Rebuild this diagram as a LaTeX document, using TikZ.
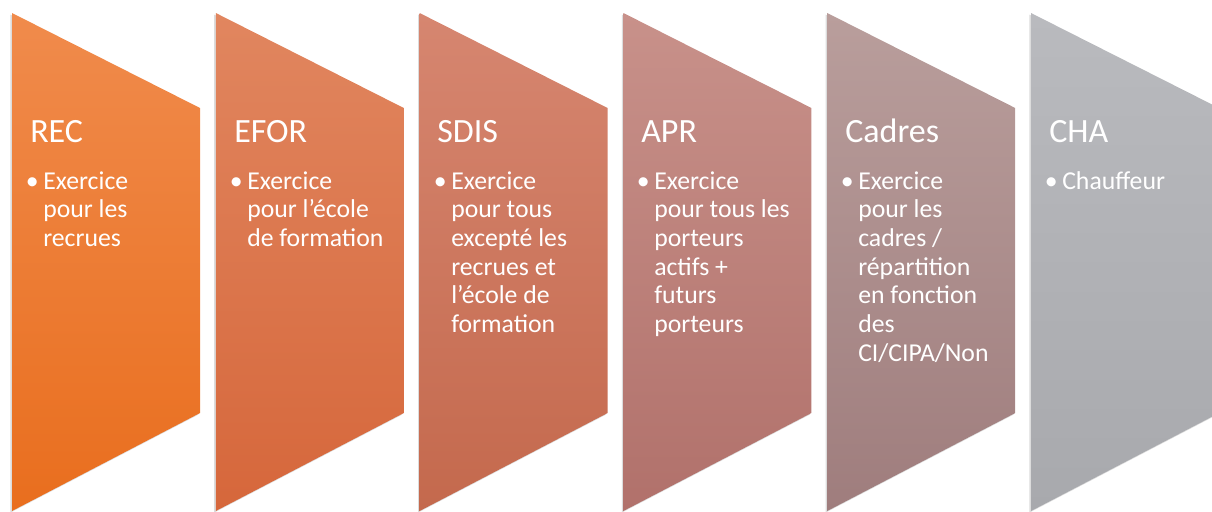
\documentclass[tikz,border=0pt]{standalone}
\usepackage{fontspec}
\setmainfont{Carlito}
\usepackage{xcolor}
\usepackage{tikz}
\usetikzlibrary{shadows}
\definecolor{RecTop}{HTML}{F08B4C}
\definecolor{RecBot}{HTML}{E96E1E}
\definecolor{EforTop}{HTML}{E1865F}
\definecolor{EforBot}{HTML}{D6673B}
\definecolor{SdisTop}{HTML}{D68670}
\definecolor{SdisBot}{HTML}{C4694D}
\definecolor{AprTop}{HTML}{C8918A}
\definecolor{AprBot}{HTML}{B1716B}
\definecolor{CadTop}{HTML}{B99E9C}
\definecolor{CadBot}{HTML}{9F7D7D}
\definecolor{ChaTop}{HTML}{B9BABE}
\definecolor{ChaBot}{HTML}{A8A9AD}
\tikzset{
  panel/.style={drop shadow={opacity=0.28,shadow xshift=-1.2pt,shadow yshift=-1.2pt}},
  title/.style={anchor=base west,inner sep=0pt,text=white,font=\fontsize{25.5}{30}\selectfont},
  body/.style={anchor=base west,inner sep=0pt,text=white}
}
\newcommand\bodytext[1]{\parbox[t]{130pt}{\fontsize{19.3}{21.5}\selectfont\raggedright\leavevmode\llap{\textbullet\hspace{3.5pt}}#1}}

\begin{document}
\begin{tikzpicture}[x=0.75pt,y=-0.75pt]
  \clip (0,0) rectangle (1212,511);
  % chevrons
  \foreach \i/\ctop/\cbot in {0/RecTop/RecBot,1/EforTop/EforBot,2/SdisTop/SdisBot,3/AprTop/AprBot,4/CadTop/CadBot,5/ChaTop/ChaBot}
    \path[panel,top color=\ctop,bottom color=\cbot]
      ({12+203.8*\i},13) -- ({200+203.8*\i},108) -- ({200+203.8*\i},413) -- ({12+203.8*\i},511) -- cycle;
  % titles
  \node[title] (rec) at (30,142) {REC};
  \node[title] (efor) at (234,142) {EFOR};
  \node[title] (sdis) at (437,142) {SDIS};
  \node[title] (apr) at (641,142) {APR};
  \node[title] (cadres) at (845,142) {Cadres};
  \node[title] (cha) at (1049,142) {CHA};
  % bullets
  \node[body] (rec-txt) at (43,189) {\bodytext{Exercice\\pour les\\recrues}};
  \node[body] (efor-txt) at (247,189) {\bodytext{Exercice\\pour l’école\\de formation}};
  \node[body] (sdis-txt) at (451,189) {\bodytext{Exercice\\pour tous\\excepté les\\recrues et\\l’école de\\formation}};
  \node[body] (apr-txt) at (654,189) {\bodytext{Exercice\\pour tous les\\porteurs\\actifs +\\futurs\\porteurs}};
  \node[body] (cadres-txt) at (858,189) {\bodytext{Exercice\\pour les\\cadres /\\répartition\\en fonction\\des\\CI/CIPA/Non}};
  \node[body] (cha-txt) at (1062,189) {\bodytext{Chauffeur}};
\end{tikzpicture}
\end{document}
